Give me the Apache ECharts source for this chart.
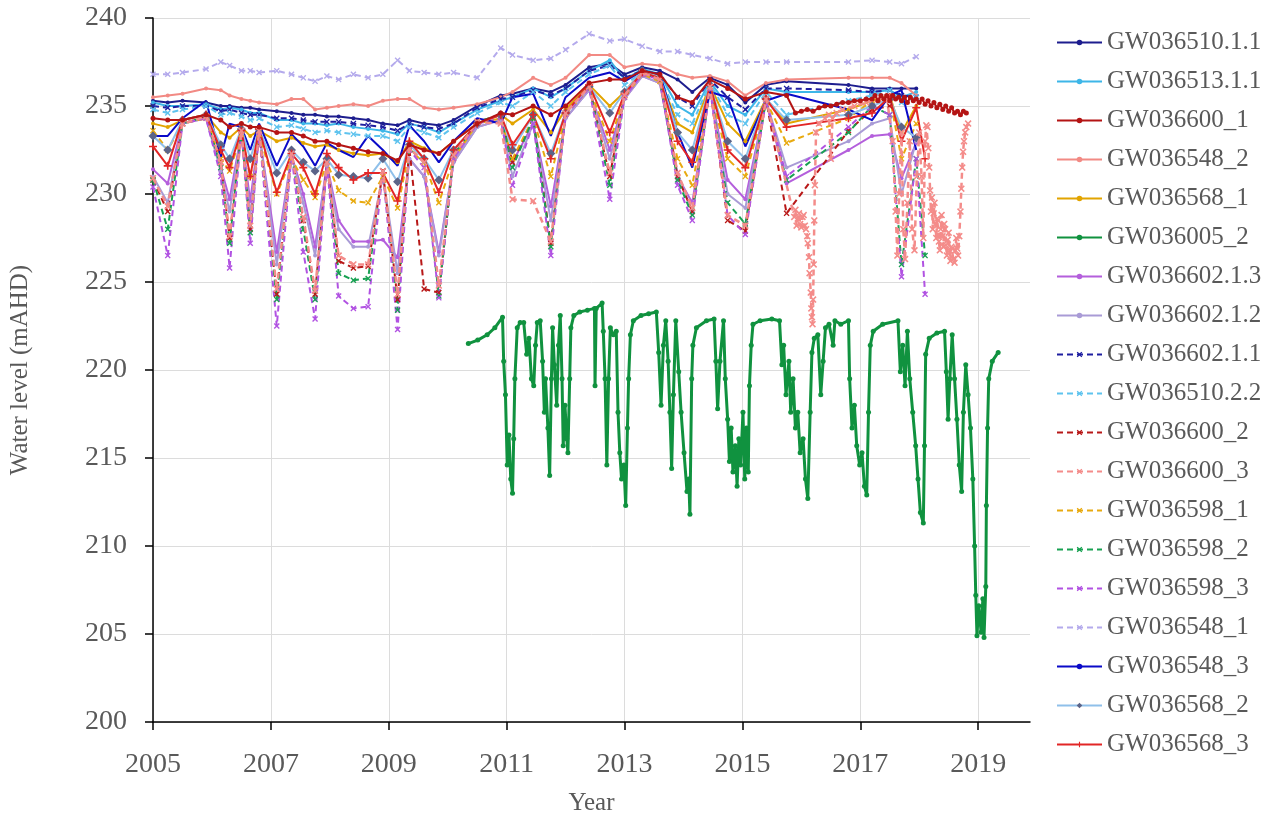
<!DOCTYPE html>
<html><head><meta charset="utf-8">
<script src="https://cdn.jsdelivr.net/npm/echarts@6/dist/echarts.min.js"></script>
<style>html,body{margin:0;padding:0;background:#fff}#c{width:1272px;height:821px}</style>
</head><body><div id="c"></div>
<script>
// Shared manual sampling dates (decimal years)
const years = [2005.00,2005.25,2005.50,2005.90,2006.15,2006.30,2006.50,2006.65,2006.80,2007.10,
  2007.35,2007.55,2007.75,2007.95,2008.15,2008.40,2008.65,2008.90,2009.15,2009.35,
  2009.60,2009.85,2010.10,2010.50,2010.90,2011.10,2011.45,2011.75,2012.00,2012.40,
  2012.75,2013.00,2013.30,2013.60,2013.90,2014.15,2014.45,2014.75,2015.05,2015.40,
  2015.75,2016.80,2017.20,2017.50,2017.70,2017.95,2018.10];

const GW036510_1_1 = [235.3,235.2,235.3,235.2,235.0,235.0,234.9,234.9,234.8,234.7,234.6,234.5,234.5,234.4,234.4,234.3,234.2,234.0,233.9,234.2,234.0,233.9,234.2,235.0,235.6,235.7,236.0,235.8,236.2,237.2,237.4,236.8,237.2,237.0,236.5,235.8,236.6,236.2,235.2,236.2,236.4,236.2,236.0,236.0,236.0,236.0,null];
const GW036513_1_1 = [235.2,235.0,235.0,235.1,234.8,234.9,234.8,234.6,234.6,234.2,234.2,234.0,234.0,233.9,234.0,233.8,233.7,233.6,233.4,234.0,233.8,233.5,234.0,234.8,235.3,235.5,236.0,235.5,236.0,237.0,237.6,236.5,237.1,236.8,235.0,234.5,236.4,235.0,234.5,236.0,235.8,235.8,235.8,235.9,235.5,235.8,null];
const GW036600_1 = [234.3,234.2,234.2,234.5,234.2,233.8,234.0,233.8,233.8,233.5,233.5,233.3,233.0,233.0,232.8,232.6,232.4,232.3,231.9,232.8,232.5,232.3,233.0,234.0,234.6,234.5,235.0,234.5,235.0,236.3,236.5,236.5,237.0,236.8,235.5,235.2,236.5,236.0,235.4,235.8,235.6,null,null,null,null,null,null];
const GW036600_1_logYears = [2015.90,2016.00,2016.10,2016.20,2016.30,2016.40,2016.50,2016.60,2016.70,2016.80,2016.90,2017.00,2017.10,2017.20,2017.25,2017.30,2017.35,2017.40,2017.45,2017.50,2017.55,2017.60,2017.65,2017.70,2017.75,2017.80,2017.85,2017.90,2017.95,2018.00,2018.05,2018.10,2018.15,2018.20,2018.25,2018.30,2018.35,2018.40,2018.45,2018.50,2018.55,2018.60,2018.65,2018.70,2018.75,2018.80];
const GW036600_1_logVals = [234.6,234.7,234.8,234.7,234.9,235.0,235.0,235.1,235.2,235.2,235.3,235.3,235.4,235.4,235.6,235.3,235.6,235.4,235.6,235.3,235.6,235.4,235.5,235.3,235.5,235.2,235.5,235.3,235.4,235.2,235.4,235.1,235.3,235.0,235.2,234.9,235.1,234.8,235.0,234.7,234.9,234.6,234.7,234.5,234.7,234.6];
const GW036548_2 = [235.5,235.6,235.7,236.0,235.9,235.6,235.4,235.3,235.2,235.1,235.4,235.4,234.8,234.9,235.0,235.1,235.0,235.3,235.4,235.4,234.9,234.8,234.9,235.1,235.5,235.8,236.6,236.2,236.6,237.9,237.9,237.2,237.4,237.3,236.8,236.6,236.7,236.4,235.6,236.3,236.5,236.6,236.6,236.6,236.3,235.6,null];
const GW036568_1 = [234.0,233.8,234.2,234.5,233.5,233.2,233.8,233.3,233.6,233.0,233.2,232.9,232.7,232.8,232.5,232.3,232.2,232.3,231.8,233.0,232.6,232.3,233.0,234.0,234.5,234.0,234.8,233.5,234.8,236.2,235.0,235.8,237.0,236.6,234.0,233.5,236.2,234.0,233.0,235.4,234.0,234.8,235.3,235.6,233.5,235.0,null];
const GW036602_1_3 = [231.4,230.6,234.0,234.3,231.5,229.7,233.5,229.6,233.5,226.7,232.2,230.0,227.0,231.7,228.5,227.3,227.3,227.4,226.4,232.0,231.0,226.7,231.8,233.8,234.2,231.8,234.0,229.3,234.3,235.9,232.5,235.4,236.7,236.3,231.0,229.5,236.0,230.8,229.7,235.3,230.6,232.5,233.3,233.4,230.9,232.9,null];
const GW036602_1_2 = [231.0,229.5,234.0,234.3,231.3,229.0,233.5,228.8,233.5,226.0,232.2,229.5,226.5,231.6,228.0,227.0,227.0,231.0,225.5,232.0,231.0,226.5,231.8,233.8,234.2,231.0,234.0,228.5,234.3,235.9,232.0,235.4,236.7,236.3,231.2,229.0,236.0,230.0,229.2,235.3,231.5,233.0,234.0,234.3,230.0,233.0,null];
const GW036602_1_1 = [235.0,234.9,235.0,235.0,234.7,234.8,234.6,234.5,234.5,234.3,234.3,234.2,234.1,234.1,234.1,234.0,233.9,233.8,233.6,234.0,233.8,233.7,234.0,234.9,235.4,235.5,235.9,235.6,236.0,237.0,237.3,236.6,237.0,236.8,235.5,235.0,236.5,235.5,234.8,236.0,236.0,235.9,235.8,235.9,235.6,235.5,null];
const GW036510_2_2 = [234.8,234.6,234.8,235.0,234.5,234.6,234.4,234.2,234.3,233.8,233.9,233.7,233.5,233.6,233.5,233.4,233.3,233.3,233.0,233.8,233.5,233.2,233.8,234.6,235.2,235.0,235.8,235.0,235.8,236.8,237.3,236.2,236.9,236.6,234.5,234.0,236.3,234.5,234.0,235.8,234.5,235.3,235.6,235.9,235.2,235.5,null];
const GW036600_2 = [230.8,229.0,234.0,234.4,231.8,227.5,233.6,228.0,233.6,224.3,232.3,228.5,224.3,231.8,226.2,225.8,225.9,231.3,224.0,232.6,224.6,224.4,232.2,234.1,234.5,231.8,234.3,227.2,234.6,236.1,231.0,235.6,236.9,236.5,231.0,229.0,236.1,228.5,227.9,235.4,228.9,233.6,234.8,235.0,null,null,null];
const GW036600_3 = [230.9,229.3,234.0,234.4,231.8,227.6,233.6,228.2,233.6,224.6,232.3,228.7,224.5,231.8,226.5,226.0,226.0,231.3,224.3,232.6,231.8,224.8,232.2,234.1,234.0,229.7,229.6,227.3,234.6,236.1,231.2,235.6,236.9,236.5,231.2,229.2,236.1,228.8,228.2,235.4,null,null,null,null,null,null,null];
const GW036600_3_logYears = [2015.88,2015.90,2015.92,2015.94,2015.96,2015.98,2016.00,2016.02,2016.04,2016.06,2016.08,2016.10,2016.11,2016.13,2016.14,2016.16,2016.17,2016.18,2016.19,2016.20,2016.21,2016.22,2016.23,2016.25,2016.30,2016.40,2016.47,2016.50,2016.53,2016.60,2016.70,2016.90,2017.10,2017.30,2017.45,2017.55,2017.60,2017.63,2017.66,2017.70,2017.73,2017.76,2017.80,2017.84,2017.88,2017.92,2017.96,2018.00,2018.04,2018.07,2018.10,2018.12,2018.14,2018.155,2018.17,2018.185,2018.20,2018.215,2018.23,2018.245,2018.26,2018.275,2018.29,2018.305,2018.32,2018.335,2018.35,2018.365,2018.38,2018.395,2018.41,2018.425,2018.44,2018.455,2018.47,2018.485,2018.50,2018.515,2018.53,2018.545,2018.56,2018.58,2018.60,2018.615,2018.63,2018.645,2018.66,2018.68,2018.70,2018.715,2018.73,2018.745,2018.76,2018.78,2018.80,2018.83];
const GW036600_3_logVals = [228.7,229.1,228.2,228.6,228.9,228.3,228.1,228.7,228.8,228.2,228.0,227.6,227.2,226.4,225.5,224.4,223.5,223.0,222.6,224.0,226.0,228.5,230.5,233.5,234.0,234.3,234.5,232.0,234.3,234.6,234.8,235.0,235.2,235.4,235.5,233.0,229.0,226.5,230.0,233.5,228.0,226.3,229.5,233.0,228.0,226.8,231.0,233.5,231.0,227.5,233.0,233.9,233.8,232.6,231.5,230.2,229.0,229.8,228.0,228.9,229.5,228.3,227.5,228.6,228.5,227.3,226.8,228.0,228.8,227.6,227.0,228.3,228.0,227.1,226.5,227.4,227.8,226.8,226.2,227.0,226.9,226.3,226.1,226.8,227.5,226.9,226.5,227.6,229.0,230.3,231.5,232.4,233.0,233.5,233.8,234.0];
const GW036598_1 = [233.6,232.5,234.0,234.3,232.0,231.3,233.4,231.0,233.4,230.0,232.0,230.8,229.8,231.8,230.2,229.6,229.5,231.0,229.2,232.5,231.8,229.5,232.0,234.0,234.3,232.0,234.3,231.0,234.5,236.0,233.0,235.5,236.8,236.4,232.0,230.5,236.0,232.0,231.0,235.3,232.9,234.3,235.3,235.5,232.0,234.0,null];
const GW036598_2 = [230.8,228.0,234.0,234.4,231.5,227.2,233.6,227.8,233.6,224.0,232.3,228.0,224.0,231.8,225.5,225.1,225.2,231.3,223.4,232.6,231.8,224.2,232.2,234.1,234.5,231.5,234.3,227.0,234.6,236.1,230.5,235.6,236.9,236.5,230.8,228.8,236.1,229.5,228.3,235.3,230.8,233.5,235.0,234.5,226.0,232.0,226.5];
const GW036598_3 = [230.4,226.5,234.0,234.3,231.0,225.8,233.6,227.2,233.5,222.5,232.2,226.7,222.9,231.8,224.2,223.5,223.6,231.3,222.3,232.5,231.5,224.1,232.0,234.0,234.3,230.5,234.0,226.5,234.5,236.0,229.7,235.5,236.8,236.5,230.5,228.5,236.0,228.8,227.7,235.3,231.0,233.8,235.0,234.5,225.3,232.0,224.3];
const GW036548_1 = [236.8,236.8,236.9,237.1,237.5,237.3,237.0,237.0,236.9,237.0,236.8,236.6,236.4,236.7,236.5,236.8,236.6,236.8,237.6,237.0,236.9,236.8,236.9,236.6,238.3,237.9,237.6,237.7,238.2,239.1,238.7,238.8,238.4,238.1,238.1,237.9,237.7,237.4,237.5,237.5,237.5,237.5,237.6,237.5,237.4,237.8,null];
const GW036548_3 = [233.3,233.3,234.3,235.3,232.1,234.0,233.8,232.5,234.0,231.6,233.4,232.7,231.6,232.9,232.5,232.1,233.3,232.5,231.6,233.9,233.0,231.8,233.0,234.3,234.0,235.5,235.7,233.3,235.5,236.6,236.9,236.4,237.0,236.8,233.5,231.5,235.8,235.5,232.7,235.3,235.7,234.8,234.2,235.6,235.9,232.5,null];
const GW036568_2 = [233.3,232.5,234.2,234.5,232.8,232.0,233.7,232.0,233.7,231.2,232.5,231.8,231.3,232.0,231.1,231.0,230.9,232.0,230.7,232.8,232.0,230.8,232.5,234.0,234.5,232.5,234.5,232.3,234.6,236.1,234.6,235.8,237.0,236.6,233.5,232.5,236.2,233.0,232.0,235.4,234.2,234.5,235.0,235.4,233.8,233.2,null];
const GW036568_3 = [232.7,231.6,234.2,234.5,232.5,231.5,233.6,231.0,233.7,230.1,232.3,231.5,230.0,232.3,231.5,230.8,231.2,231.2,229.6,233.0,232.0,230.1,232.5,234.0,234.5,232.8,234.5,232.0,234.6,236.2,233.5,235.7,236.9,236.6,233.0,231.8,236.2,232.5,231.5,235.4,233.8,234.3,234.6,235.5,233.0,234.9,232.0];

// GW036005_2 logger record
const GW036005_2_years = [2010.35,2010.51,2010.67,2010.80,2010.93,2010.95,2010.98,2011.01,2011.04,2011.07,2011.10,2011.12,2011.14,2011.18,2011.23,2011.29,2011.34,2011.38,2011.42,2011.46,2011.49,2011.52,2011.57,2011.61,2011.64,2011.66,2011.70,2011.73,2011.76,2011.78,2011.81,2011.85,2011.88,2011.91,2011.94,2011.96,2011.99,2012.02,2012.04,2012.07,2012.09,2012.14,2012.24,2012.37,2012.49,2012.50,2012.52,2012.62,2012.64,2012.67,2012.70,2012.73,2012.76,2012.81,2012.86,2012.89,2012.92,2012.95,2012.99,2013.02,2013.05,2013.07,2013.10,2013.15,2013.28,2013.41,2013.54,2013.58,2013.62,2013.66,2013.70,2013.74,2013.77,2013.80,2013.83,2013.87,2013.92,2013.96,2014.01,2014.06,2014.09,2014.11,2014.14,2014.16,2014.22,2014.39,2014.52,2014.55,2014.58,2014.62,2014.68,2014.71,2014.75,2014.78,2014.81,2014.84,2014.88,2014.91,2014.94,2014.97,2015.01,2015.04,2015.07,2015.10,2015.12,2015.15,2015.18,2015.30,2015.50,2015.63,2015.67,2015.70,2015.74,2015.79,2015.82,2015.86,2015.90,2015.94,2015.98,2016.03,2016.07,2016.11,2016.15,2016.18,2016.22,2016.28,2016.33,2016.37,2016.41,2016.47,2016.54,2016.57,2016.67,2016.80,2016.82,2016.86,2016.90,2016.94,2016.99,2017.03,2017.07,2017.11,2017.14,2017.17,2017.22,2017.38,2017.64,2017.68,2017.72,2017.76,2017.80,2017.84,2017.89,2017.94,2017.98,2018.02,2018.07,2018.09,2018.11,2018.17,2018.30,2018.43,2018.46,2018.49,2018.52,2018.56,2018.60,2018.64,2018.68,2018.72,2018.75,2018.79,2018.83,2018.87,2018.91,2018.94,2018.96,2018.98,2019.01,2019.05,2019.08,2019.10,2019.13,2019.14,2019.16,2019.18,2019.24,2019.34];
const GW036005_2_vals = [221.5,221.7,222.0,222.4,223.0,220.5,218.6,214.6,216.3,213.8,213.0,216.1,219.5,222.4,222.7,222.7,220.9,221.8,219.5,219.1,221.4,222.7,222.8,220.5,217.6,219.5,216.7,214.0,219.5,222.4,220.3,218.0,221.4,223.1,219.5,215.7,218.0,216.1,215.3,219.5,222.4,223.1,223.3,223.4,223.5,219.1,223.5,223.8,222.2,219.5,214.6,219.5,222.4,222.0,222.2,217.6,215.3,213.8,214.6,212.3,216.7,219.5,222.0,222.8,223.1,223.2,223.3,221.0,218.0,221.4,222.8,220.5,217.6,214.4,218.6,222.8,219.9,217.6,215.3,213.1,213.8,211.8,219.5,221.4,222.4,222.8,222.9,220.5,217.8,220.5,222.8,219.5,217.2,214.8,216.7,214.2,215.7,213.4,216.1,214.6,217.6,213.8,216.7,214.2,219.1,221.4,222.6,222.8,222.9,222.8,220.3,221.4,218.6,220.5,217.6,219.5,216.7,217.6,215.3,216.1,213.8,212.7,217.6,221.0,221.8,222.0,218.6,220.5,222.4,222.6,221.4,222.8,222.6,222.8,219.5,216.7,218.0,215.7,214.6,215.3,213.4,212.9,217.6,221.4,222.2,222.6,222.8,219.9,221.4,219.1,222.2,219.5,217.6,215.7,213.8,211.9,211.3,215.7,220.9,221.8,222.1,222.2,219.9,217.2,219.5,222.0,219.5,217.2,214.6,213.1,217.6,220.3,218.6,216.7,213.8,210.0,207.2,204.9,206.6,205.1,207.0,204.8,207.7,212.3,216.7,219.5,220.5,221.0];

const yTicks = [200,205,210,215,220,225,230,235,240];
const xTickYears = [2005,2007,2009,2011,2013,2015,2017,2019];

const pairs = v => years.map((t,i)=>[t,v[i]]).filter(p=>p[1]!==null);
const zip = (xs,ys) => xs.map((t,i)=>[t,ys[i]]);

const X = 'path://M0,1.6L1.6,0L5,3.4L8.4,0L10,1.6L6.6,5L10,8.4L8.4,10L5,6.6L1.6,10L0,8.4L3.4,5Z';
const PLUS = 'path://M4,0H6V4H10V6H6V10H4V6H0V4H4Z';

function S(name, data, color, opt){
  opt = opt || {};
  return {
    name, type:'line', data,
    symbol: opt.symbol || 'circle',
    symbolSize: opt.size || 4,
    showSymbol: opt.symbol !== 'none',
    connectNulls: true,
    animation: false,
    lineStyle: {color: opt.lineColor || color, width: opt.width || 2, type: opt.dashed ? [6,4] : 'solid'},
    itemStyle: {color: color},
    emphasis: {disabled: true},
    z: opt.z || 2
  };
}

const series = [
  S('GW036510.1.1', pairs(GW036510_1_1), '#1d1d8e'),
  S('GW036513.1.1', pairs(GW036513_1_1), '#3db6e8'),
  S('GW036600_1', pairs(GW036600_1).concat(zip(GW036600_1_logYears, GW036600_1_logVals)), '#b41414', {z:4, size:5}),
  S('GW036548_2', pairs(GW036548_2), '#f28a84'),
  S('GW036568_1', pairs(GW036568_1), '#e2a400'),
  S('GW036005_2', zip(GW036005_2_years, GW036005_2_vals), '#10923f', {size:5, width:3}),
  S('GW036602.1.3', pairs(GW036602_1_3), '#b45fdc'),
  S('GW036602.1.2', pairs(GW036602_1_2), '#a99bd6'),
  S('GW036602.1.1', pairs(GW036602_1_1), '#1f1fa0', {dashed:true, symbol:X, size:6}),
  S('GW036510.2.2', pairs(GW036510_2_2), '#5ec3ee', {dashed:true, symbol:X, size:6}),
  S('GW036600_2', pairs(GW036600_2), '#b81818', {dashed:true, symbol:X, size:6}),
  S('GW036600_3', pairs(GW036600_3).concat(zip(GW036600_3_logYears, GW036600_3_logVals)), '#f48c8a', {dashed:true, symbol:X, size:7, z:3, width:2.5}),
  S('GW036598_1', pairs(GW036598_1), '#e8aa10', {dashed:true, symbol:X, size:6}),
  S('GW036598_2', pairs(GW036598_2), '#18a152', {dashed:true, symbol:X, size:6}),
  S('GW036598_3', pairs(GW036598_3), '#b152e2', {dashed:true, symbol:X, size:6}),
  S('GW036548_1', pairs(GW036548_1), '#b4aaec', {dashed:true, symbol:X, size:6}),
  S('GW036548_3', pairs(GW036548_3), '#0a0ac8', {symbol:'none'}),
  S('GW036568_2', pairs(GW036568_2), '#5c6488', {symbol:'diamond', size:9, lineColor:'#8fc0ea'}),
  S('GW036568_3', pairs(GW036568_3), '#e22626', {symbol:PLUS, size:8})
];

const FONT = 'Liberation Serif';
const chart = echarts.init(document.getElementById('c'), null, {renderer:'canvas'});
chart.setOption({
  backgroundColor:'#ffffff',
  animation:false,
  grid:{left:153, right:242, top:18, bottom:98, containLabel:false},
  legend:{
    orient:'vertical', left:1051, top:25, itemWidth:45, itemHeight:7, itemGap:14,
    textStyle:{fontFamily:FONT, fontSize:25, color:'#595959', lineHeight:25},
    data: series.map(s=>s.name), selectedMode:false
  },
  xAxis:{
    type:'value', min:xTickYears[0], max:2019.88, interval:2,
    name:'Year', nameLocation:'middle', nameGap:69,
    nameTextStyle:{fontFamily:FONT, fontSize:25, color:'#595959'},
    axisLine:{show:true, onZero:false, lineStyle:{color:'#000', width:1.5}},
    axisTick:{show:true, inside:false, length:8, lineStyle:{color:'#000', width:1.5}},
    axisLabel:{fontFamily:FONT, fontSize:28, color:'#595959', margin:29, showMaxLabel:false,
      formatter: v => xTickYears.includes(v) ? String(v) : ''},
    splitLine:{show:true, showMaxLine:false, lineStyle:{color:'#dcdcdc', width:1}}
  },
  yAxis:{
    type:'value', min:yTicks[0], max:yTicks[yTicks.length-1], interval:5,
    name:'Water level (mAHD)', nameLocation:'middle', nameGap:120, nameRotate:90,
    nameTextStyle:{fontFamily:FONT, fontSize:25, color:'#595959'},
    axisLine:{show:true, lineStyle:{color:'#000', width:1.5}},
    axisTick:{show:true, inside:false, length:8, lineStyle:{color:'#000', width:1.5}},
    axisLabel:{fontFamily:FONT, fontSize:28, color:'#595959', margin:26},
    splitLine:{show:true, lineStyle:{color:'#dcdcdc', width:1}}
  },
  series
});
</script></body></html>
